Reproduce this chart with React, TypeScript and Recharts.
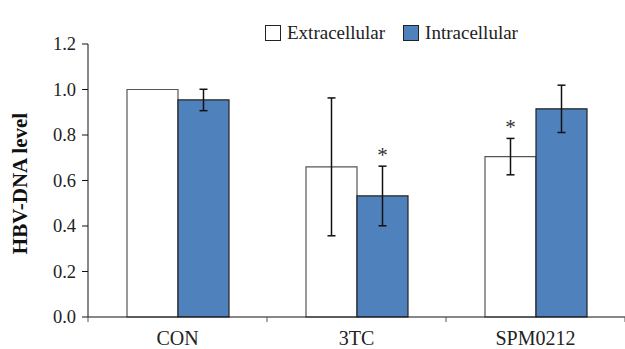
import {
  BarChart,
  Bar,
  XAxis,
  YAxis,
  Legend,
  ErrorBar,
  LabelList,
} from "recharts";

const categories = ["CON", "3TC", "SPM0212"];
const extracellular = [1.0, 0.66, 0.705];
const extracellularErr = [0, 0.303, 0.08];
const intracellular = [0.954, 0.532, 0.915];
const intracellularErr = [0.047, 0.131, 0.104];
const extraStar = [false, false, true];
const intraStar = [false, true, false];
const yTicks = [0, 0.2, 0.4, 0.6, 0.8, 1.0, 1.2];

const FONT = '"Liberation Serif", "Times New Roman", serif';
const BAND = 179;

const data = categories.map((name, i) => ({
  name,
  extra: extracellular[i],
  extraErr: extracellularErr[i],
  intra: intracellular[i],
  intraErr: intracellularErr[i],
}));

const XTick = ({ x, y, payload, index }: any) => {
  const left = x - BAND / 2;
  return (
    <g>
      <line x1={left} y1={y} x2={left} y2={y + 5} stroke="#555" />
      {index === categories.length - 1 && (
        <line x1={x + BAND / 2} y1={y} x2={x + BAND / 2} y2={y + 5} stroke="#555" />
      )}
      <text x={x} y={y + 28} textAnchor="middle" fontSize={20} fontFamily={FONT} fill="#222">
        {payload.value}
      </text>
    </g>
  );
};

const YTick = ({ x, y, payload }: any) => (
  <text x={x} y={y} dy={6} textAnchor="end" fontSize={18.5} fontFamily={FONT} fill="#222">
    {Number(payload.value).toFixed(1)}
  </text>
);

const makeStar = (flags: boolean[], errs: number[]) => (props: any) => {
  const { x, y, width, height, value, index } = props;
  if (!flags[index] || !value) return null;
  const perUnit = height / value;
  const top = y - errs[index] * perUnit;
  return (
    <text x={x + width / 2} y={top - 4} textAnchor="middle" fontSize={21} fontFamily={FONT} fill="#333">
      *
    </text>
  );
};

const LegendBox = () => (
  <div style={{ display: "flex", alignItems: "center", fontFamily: FONT, fontSize: 19, color: "#222" }}>
    <span style={{ width: 14, height: 14, border: "1.5px solid #222", background: "#fff", marginRight: 6 }} />
    <span>Extracellular</span>
    <span style={{ width: 14, height: 14, border: "1.5px solid #222", background: "#4f81bd", marginLeft: 18, marginRight: 6 }} />
    <span>Intracellular</span>
  </div>
);

export default function App() {
  return (
    <div style={{ width: 625, height: 349, background: "#fff" }}>
      <style>{"body{margin:0}"}</style>
      <BarChart
        width={625}
        height={349}
        data={data}
        margin={{ top: 22, right: 0, left: 0, bottom: 0 }}
        barGap={0}
        barSize={51}
      >
        <XAxis
          dataKey="name"
          height={32}
          tickSize={0}
          tickMargin={0}
          tickLine={false}
          axisLine={{ stroke: "#111" }}
          tick={<XTick />}
        />
        <YAxis
          width={88}
          domain={[0, 1.2]}
          ticks={yTicks}
          tickSize={6}
          tickMargin={6}
          axisLine={{ stroke: "#111" }}
          tickLine={{ stroke: "#111" }}
          tick={<YTick />}
          label={({ viewBox }: any) => (
            <text
              x={0}
              y={0}
              transform={`translate(20, ${viewBox.y + viewBox.height / 2 + 3}) rotate(-90)`}
              textAnchor="middle"
              dominantBaseline="central"
              fontSize={21}
              fontWeight="bold"
              fontFamily={FONT}
              fill="#111"
            >
              HBV-DNA level
            </text>
          )}
        />
        <Legend
          verticalAlign="top"
          content={<LegendBox />}
          wrapperStyle={{ position: "absolute", top: 22, left: 265, width: "auto" }}
        />
        <Bar dataKey="extra" fill="#ffffff" stroke="#555" strokeWidth={1.2} isAnimationActive={false}>
          <ErrorBar dataKey="extraErr" width={4} stroke="#111" strokeWidth={1.5} />
          <LabelList dataKey="extra" content={makeStar(extraStar, extracellularErr)} />
        </Bar>
        <Bar dataKey="intra" fill="#4f81bd" stroke="#222" strokeWidth={1.2} isAnimationActive={false}>
          <ErrorBar dataKey="intraErr" width={4} stroke="#111" strokeWidth={1.5} />
          <LabelList dataKey="intra" content={makeStar(intraStar, intracellularErr)} />
        </Bar>
      </BarChart>
    </div>
  );
}
